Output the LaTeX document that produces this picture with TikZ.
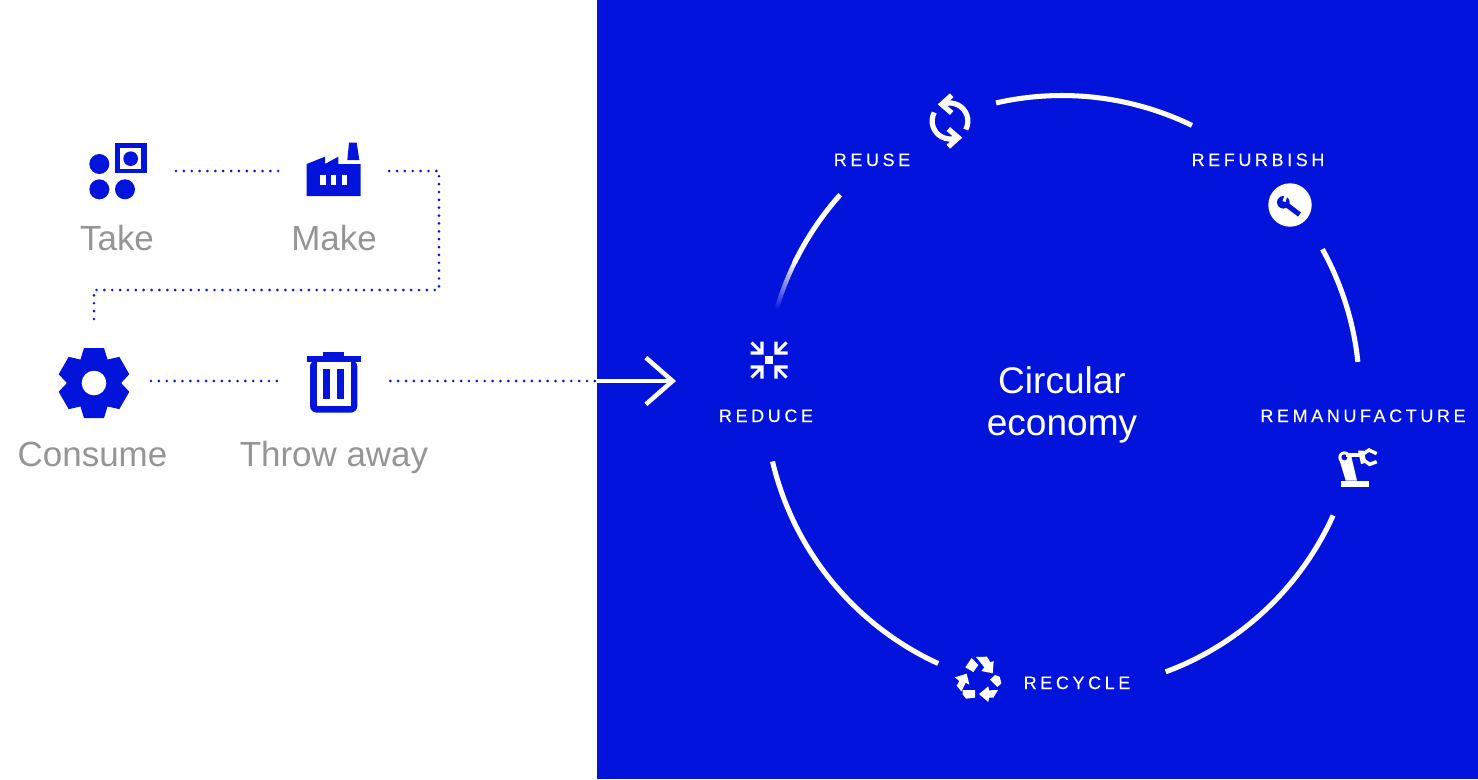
\documentclass[tikz,border=0pt]{standalone}
\usepackage{fontspec}
\setmainfont{Liberation Sans}
\newfontfamily\trackedfont[LetterSpace=20, FakeBold=0.2]{Liberation Sans}
\usetikzlibrary{positioning, calc, arrows.meta}

\definecolor{brand}{RGB}{2,20,220}
\definecolor{stepgrey}{RGB}{149,149,149}

\tikzset{
  iconbox/.style={inner sep=0, outer sep=0},
  steplabel/.style={anchor=base, inner sep=0, text=stepgrey, font=\fontsize{26.2}{30}\selectfont},
  looplabel/.style={anchor=base, inner sep=0, text=white, font=\trackedfont\fontsize{13.5}{16}\selectfont},
  dots/.style={draw=brand, line width=2.2pt, line cap=round, dash pattern=on 0pt off 5.9pt},
  ring/.style={draw=white, line width=3.8pt},
  takeicon/.pic={
    \begin{scope}[scale=1/3, shift={(-174,-123)}, brand]
      \fill (118,102) circle[radius=30] (118,178) circle[radius=30] (195,178) circle[radius=30];
      \fill (165,38) rectangle (260,130);
      \fill[white] (180,55) rectangle (243,117);
      \fill (212,86) circle[radius=22];
    \end{scope}
  },
  makeicon/.pic={
    \begin{scope}[scale=1/3, shift={(-820.5,-123)}, brand]
      \fill (740,198) -- (740,102) -- (795,80) -- (795,102) -- (835,80) -- (835,102) -- (902,102) -- (902,198) -- cycle;
      \fill (867,38) -- (890,38) -- (898,90) -- (862,90) -- cycle;
      \foreach \winx in {780,812,845}
        \fill[white] (\winx,135) rectangle +(17,30);
    \end{scope}
  },
  gearicon/.pic={
    \begin{scope}[shift={(0,2)}, brand]
      \foreach \toothang in {0,60,...,300}
        \fill[rotate=\toothang] (-10,-35) -- (10,-35) -- (14,-22) -- (-14,-22) -- cycle;
      \fill (0,0) circle[radius=26.5];
      \fill[white] (0,0) circle[radius=12.3];
    \end{scope}
  },
  binicon/.pic={
    \begin{scope}[scale=1/3, shift={(-882,-153)}, brand]
      \fill (850,67) rectangle (912,80);
      \fill (800,77) rectangle (962,97);
      \fill[rounded corners=5pt] (810,90) -- (810,248) -- (952,248) -- (952,90) -- cycle;
      \fill[white] (830,97) rectangle (932,228);
      \fill (850,117) rectangle (870,208);
      \fill (892,117) rectangle (912,208);
    \end{scope}
  },
  reuseicon/.pic={
    \foreach \turnang in {0,180}
      \draw[white, line width=3.9pt, rotate=\turnang]
        (-6,-17) arc[start angle=-109, end angle=28, radius=18]
        (1.7,-25.7) -- (-8.3,-16.7) -- (1.7,-8);
  },
  wrenchicon/.pic={
    \fill[white] (0,0) circle[radius=21.7];
    \fill[brand] (-6.7,-2.7) circle[radius=6.3];
    \draw[brand, line width=3.8pt] (-6.7,-2.7) -- (9.5,9.5);
    \draw[white, line width=2.3pt] (-6,-3.5) -- (-3.5,-11);
  },
  roboticon/.pic={
    \begin{scope}[scale=1/3, shift={(-106,-90)}]
      \fill[white] (65,122) rectangle (147,142);
      \fill[white] (60,62) -- (95,50) -- (112,122) -- (78,122) -- cycle;
      \fill[white] (74,52) circle[radius=18];
      \fill[brand] (74,52) circle[radius=9];
      \draw[white, line width=3.5pt] (78,45) -- (122,45);
      \fill[white] (115,32) -- (132,32) -- (140,68) -- (124,72) -- cycle;
      \draw[white, line width=2.6pt] (130,42) -- (148,30) -- (171,41);
      \draw[white, line width=2.6pt] (132,60) -- (150,73) -- (171,65);
    \end{scope}
  },
  recycleicon/.pic={
    \begin{scope}[scale=1/3, shift={(-111,-99)}, white]
      \fill (95,39) -- (115,60) -- (100,81) -- (76,67) -- cycle;
      \fill (108,36) -- (141,35) -- (151,52) -- (161,48) -- (158,85) -- (124,78) -- (133,67) -- cycle;
      \fill (150,104) -- (165,90) -- (179,95) -- (184,115) -- (172,126) -- cycle;
      \fill (117,147) -- (145,124) -- (147,136) -- (174,135) -- (160,158) -- (147,158) -- (145,171) -- cycle;
      \fill (68,135) -- (105,135) -- (105,158) -- (78,161) -- (68,148) -- cycle;
      \fill (45,97) -- (80,86) -- (88,119) -- (77,113) -- (64,139) -- (50,122) -- (58,108) -- cycle;
    \end{scope}
  },
  reduceicon/.pic={
    \fill[white] (-4,-4) rectangle (4,4);
    \foreach \sx/\sy in {1/1,-1/1,1/-1,-1/-1}
      \draw[white, line width=2.3pt, xscale=\sx, yscale=\sy]
        (-17.5,-17.5) -- (-7,-7) (-18.5,-7) -- (-7,-7) -- (-7,-18.5);
  },
}

\begin{document}
\begin{tikzpicture}[x=0.75pt, y=-0.75pt]
  \newcommand\ringradius{297.5}
  \useasboundingbox (0,0) rectangle (1478,779);

  \fill[brand] (597,0) rectangle (1478,779);

  % linear side
  \node[iconbox, minimum width=44pt, minimum height=44pt] at (118,171) (take) {};
  \node[iconbox, minimum width=40.5pt, minimum height=40pt] at (333.5,171) (make) {};
  \node[iconbox, minimum width=52.5pt, minimum height=52.5pt] at (94,381) (consume) {};
  \node[iconbox, minimum width=40.5pt, minimum height=45pt] at (334,381) (bin) {};

  \pic at (take) {takeicon};
  \pic at (make) {makeicon};
  \pic at (consume) {gearicon};
  \pic at (bin) {binicon};

  \node[steplabel] at (117,250) (takelbl) {Take};
  \node[steplabel] at (334,250) (makelbl) {Make};
  \node[steplabel] at (92.5,466) (consumelbl) {Consume};
  \node[steplabel] at (334,466) (binlbl) {Throw away};

  \coordinate (bendone) at (439,171);
  \coordinate (bendtwo) at (439,290);
  \coordinate (bendthree) at (94,290);
  \coordinate (edge) at (597,381);
  \coordinate (arrowtip) at (676,381);

  \draw[dots, shorten <=21.5pt, shorten >=21pt] (take.east) -- (make.west);
  \draw[dots, shorten <=21.5pt] (make.east) -- (bendone) -- (bendtwo) -- (bendthree) -- ($(consume.north)+(0,-21)$);
  \draw[dots, shorten <=16.5pt, shorten >=21pt] (consume.east) -- (bin.west);
  \draw[dots, shorten <=22pt] (bin.east) -- (edge);
  \draw[white, line width=3.2pt, -{Straight Barb[length=20pt, width=35pt, line width=3.4pt]}] (edge) -- (arrowtip);

  % loop side
  \coordinate (hub) at (1062,393);
  \foreach \fromang/\toang in {-102.8/-64.1, -28.9/-6, 24.3/69.6, 114.6/166.7, 206/221.8}
    \draw[ring] ($(hub)+(\fromang:\ringradius)$) arc[start angle=\fromang, end angle=\toang, radius=\ringradius];
  \foreach \fadestep [evaluate=\fadestep as \fadepct using int(5*\fadestep), evaluate=\fadestep as \fadeang using 196+0.5*\fadestep] in {1,...,20}
    \draw[draw=white!\fadepct!brand, line width=3.3pt] ($(hub)+(\fadeang:\ringradius)$) arc[start angle=\fadeang, end angle=\fadeang+0.55, radius=\ringradius];

  \node[inner sep=0, align=center, text=white, font=\fontsize{27.8}{31.5}\selectfont] at (1062,405) (hublbl) {Circular\\economy};

  \node[iconbox, minimum width=30pt, minimum height=30pt] at (950,121) (reuse) {};
  \node[iconbox, minimum width=32pt, minimum height=32pt] at (1290,205) (refurbish) {};
  \node[iconbox, minimum width=30pt, minimum height=30pt] at (1355,470) (remanufacture) {};
  \node[iconbox, minimum width=32pt, minimum height=32pt] at (977,678) (recycle) {};
  \node[iconbox, minimum width=28pt, minimum height=28pt] at (769,360) (reduce) {};

  \pic at (reuse) {reuseicon};
  \pic at (refurbish) {wrenchicon};
  \pic at (remanufacture) {roboticon};
  \pic at (recycle) {recycleicon};
  \pic at (reduce) {reduceicon};

  \node[looplabel] at (872,166) (reuselbl) {REUSE};
  \node[looplabel] at (1258,166) (refurbishlbl) {REFURBISH};
  \node[looplabel] at (1363,422) (remanufacturelbl) {REMANUFACTURE};
  \node[looplabel] at (1077,689) (recyclelbl) {RECYCLE};
  \node[looplabel] at (766,422) (reducelbl) {REDUCE};
\end{tikzpicture}
\end{document}
